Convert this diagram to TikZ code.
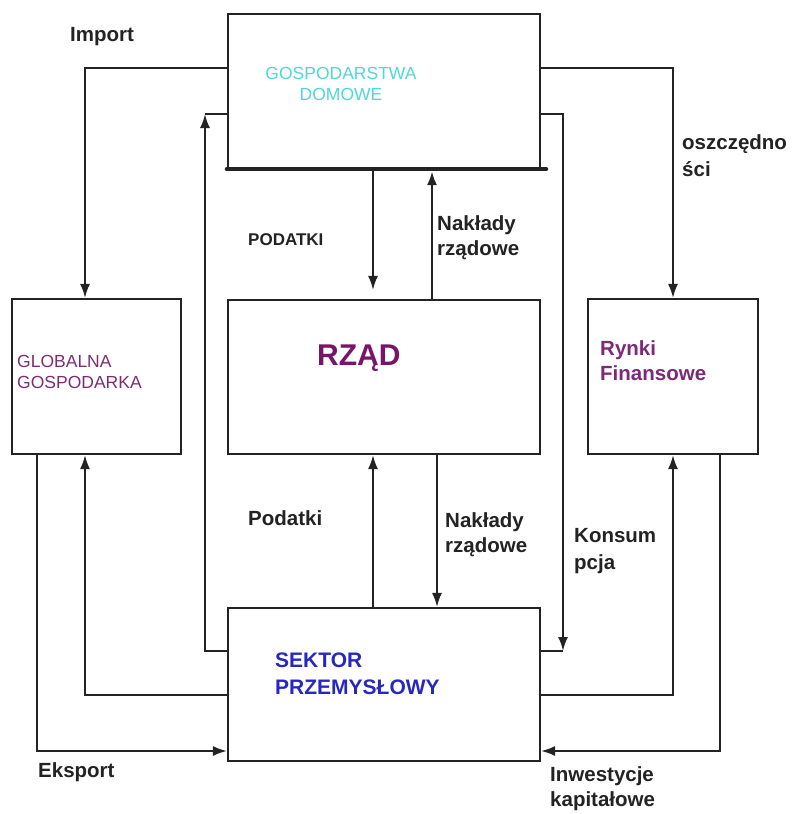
\documentclass[tikz,border=0pt]{standalone}
\usepackage{fontspec}
\setmainfont{Liberation Sans}
\usetikzlibrary{arrows.meta}

\definecolor{linec}{RGB}{35,35,35}
\definecolor{labelc}{RGB}{35,35,35}
\definecolor{housec}{RGB}{80,215,215}
\definecolor{globc}{RGB}{125,45,115}
\definecolor{govc}{RGB}{120,20,105}
\definecolor{finc}{RGB}{125,40,120}
\definecolor{indc}{RGB}{40,40,190}

\newcommand\flowfont{\fontsize{20.5}{25}\selectfont\bfseries}
\newcommand\capsfont{\fontsize{17.5}{21.5}\selectfont}

\tikzset{
  sector/.style={draw=linec, line width=2.1pt, inner sep=0pt, fill=white},
  flow/.style={draw=linec, line width=2pt, -{Latex[length=14pt,width=10pt]}},
  plainflow/.style={draw=linec, line width=2pt},
  flowlabel/.style={font=\flowfont, text=labelc, align=left, anchor=west, inner sep=0pt},
  boxlabel/.style={align=left, anchor=west, inner sep=0pt},
}

\begin{document}
\begin{tikzpicture}[x=1pt,y=-1pt]
\useasboundingbox[fill=white] (0,0) rectangle (797,814);

% sectors of the economy
\node[sector, minimum width=312pt, minimum height=154pt] (house) at (384,91) {};
\node[sector, minimum width=169pt, minimum height=155pt] (glob)  at (96.5,376.5) {};
\node[sector, minimum width=312pt, minimum height=154pt] (gov)   at (384,377) {};
\node[sector, minimum width=170pt, minimum height=155pt] (fin)   at (673,376.5) {};
\node[sector, minimum width=312pt, minimum height=153pt] (ind)   at (384,684.5) {};

% heavy lower edge of the households box
\draw[draw=linec, line width=4.5pt, line cap=round] (house.south west) -- ([xshift=5pt]house.south east);

% bend points and vertical lanes of the flows
\coordinate (impc)  at (85,68);
\coordinate (savc)  at (673,68);
\coordinate (consc) at (563,114);
\coordinate (consd) at (563,651);
\coordinate (retc)  at (205,114);
\coordinate (retd)  at (205,651);
\coordinate (taxx)  at (373,0);
\coordinate (spx)   at (432,0);
\coordinate (spy)   at (437,0);
\coordinate (expc)  at (37,751);
\coordinate (impl)  at (85,695);
\coordinate (invc)  at (673,695);
\coordinate (capc)  at (720,751);

% households <-> world, financial markets
\draw[flow] (house.west |- impc) -| (impc |- glob.north);
\draw[flow] (house.east |- savc) -| (fin.north);
\draw[flow] (house.east |- consc) -| (consd);
\draw[plainflow] (consd) -- (ind.east |- consd);
\draw[flow] (ind.west |- retd) -| (retc);
\draw[plainflow] (retc) -- (house.west |- retc);

% households <-> government
\draw[flow] (house.south -| taxx) -- ([yshift=9pt]gov.north -| taxx);
\draw[flow, line width=2.8pt] (gov.north -| spx) -- ([yshift=-2pt]house.south -| spx);

% government <-> industry
\draw[flow] (ind.north -| taxx) -- (gov.south -| taxx);
\draw[flow] (gov.south -| spy) -- (ind.north -| spy);

% industry <-> world economy
\draw[flow] (glob.south -| expc) |- (ind.west |- expc);
\draw[flow] (ind.west |- impl) -| (glob.south -| impl);

% industry <-> financial markets
\draw[flow] (ind.east |- invc) -| (fin.south);
\draw[flow] (fin.south -| capc) |- (ind.east |- capc);

% box captions
\node[align=center, inner sep=0pt, text=housec, font=\capsfont] (housetxt) at (341,84) {GOSPODARSTWA\\DOMOWE};
\node[boxlabel, text=globc, font=\capsfont] (globtxt) at (17,372) {GLOBALNA\\GOSPODARKA};
\node[boxlabel, text=govc, font=\fontsize{30}{34}\selectfont\bfseries] (govtxt) at (317,358) {RZĄD};
\node[boxlabel, text=finc, font=\flowfont] (fintxt) at (600,361) {Rynki\\Finansowe};
\node[boxlabel, text=indc, font=\fontsize{21}{27}\selectfont\bfseries] (indtxt) at (275,674) {SEKTOR\\PRZEMYSŁOWY};

% flow captions
\node[flowlabel] (limp) at (70,37) {Import};
\node[flowlabel, font=\fontsize{17}{20}\selectfont\bfseries] (ltax1) at (248,240) {PODATKI};
\node[flowlabel] (lsp1) at (437,238) {Nakłady\\rządowe};
\node[flowlabel, font=\fontsize{20.5}{27}\selectfont\bfseries] (lsav) at (682,156) {oszczędno\\ści};
\node[flowlabel] (ltax2) at (248,518) {Podatki};
\node[flowlabel] (lsp2) at (445,535) {Nakłady\\rządowe};
\node[flowlabel, font=\fontsize{20.5}{27}\selectfont\bfseries] (lcons) at (574,551) {Konsum\\pcja};
\node[flowlabel] (lexp) at (38,772) {Eksport};
\node[flowlabel, font=\fontsize{20.5}{25}\selectfont\bfseries] (linv) at (550,789) {Inwestycje\\kapitałowe};
\end{tikzpicture}
\end{document}
